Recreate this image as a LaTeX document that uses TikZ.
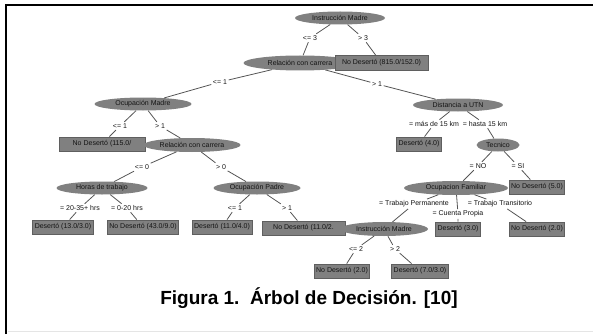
\documentclass[tikz,border=0pt]{standalone}
\usepackage{fontspec}
\setmainfont{Liberation Sans}
\usetikzlibrary{shapes.geometric}
\definecolor{nodefill}{RGB}{128,128,128}
\definecolor{boxline}{RGB}{95,95,95}
\definecolor{edgecol}{RGB}{85,85,85}
\definecolor{textcol}{RGB}{20,20,20}
\tikzset{
    attrib/.style={ellipse, fill=nodefill, inner sep=0pt, minimum height=13pt, font=\fontsize{7}{8}\selectfont, text=textcol},
    leaf/.style={rectangle, fill=nodefill, draw=boxline, line width=0.8pt, inner xsep=2pt, inner ysep=0pt, minimum height=14pt, font=\fontsize{7}{8}\selectfont, text=textcol},
    cond/.style={inner sep=1.5pt, font=\fontsize{7}{8}\selectfont, text=textcol},
    branch/.style={draw=edgecol, line width=0.8pt},
    caption/.style={font=\bfseries\fontsize{19}{22}\selectfont}
}

\begin{document}
\begin{tikzpicture}[x=1pt, y=-1pt]
      \useasboundingbox (0,0) rectangle (593,334);
      % --- Frame ---
      \draw[line width=2pt] (6,334) -- (6,5) -- (593,5);
      \draw[gray!20] (8,331) -- (593,331);

      % --- Level 0 and 1 ---
      \node (imA) [attrib, minimum width=90pt] at (340,18) {Instrucción Madre};
      \node (rcA) [attrib, minimum width=113pt, minimum height=15pt] at (300,63) {Relación con carrera};
      \node (lf1) [leaf, minimum width=93pt, minimum height=15pt] at (381.5,63) {No Desertó (815.0/152.0)};
      \node (c1) [cond] at (310,38) {<= 3};
      \node (c2) [cond] at (363,38) {> 3};

      % --- Level 2 ---
      \node (omA) [attrib, minimum width=97pt] at (143,104) {Ocupación Madre};
      \node (duA) [attrib, minimum width=90pt] at (458,105) {Distancia a UTN};
      \node (c3) [cond] at (220,82) {<= 1};
      \node (c4) [cond] at (377,84) {> 1};

      % --- Level 3 ---
      \node (lf2) [leaf, minimum width=86pt, align=left] at (102,144) {No Desertó (115.0/};
      \node (rcB) [attrib, minimum width=97pt, minimum height=14pt] at (192,145) {Relación con carrera};
      \node (lf3) [leaf] at (419,144) {Desertó (4.0)};
      \node (teA) [attrib, minimum width=43pt] at (498,145) {Tecnico};
      \node (c5) [cond] at (120,126) {<= 1};
      \node (c6) [cond] at (160,126) {> 1};
      \node (c7) [cond] at (434,124) {= más de 15 km};
      \node (c8) [cond] at (485,124) {= hasta 15 km};

      % --- Level 4 ---
      \node (htA) [attrib, minimum width=91pt] at (102,188) {Horas de trabajo};
      \node (opA) [attrib, minimum width=87pt] at (257,188) {Ocupación Padre};
      \node (ofA) [attrib, minimum width=104pt, minimum height=14pt] at (456,188) {Ocupacion Familiar};
      \node (lf4) [leaf] at (537,187) {No Desertó (5.0)};
      \node (c9) [cond] at (142,167) {<= 0};
      \node (c10) [cond] at (221,167) {> 0};
      \node (c11) [cond] at (478,166) {= NO};
      \node (c12) [cond] at (518,166) {= SI};

      % --- Level 5 ---
      \node (lf5) [leaf] at (63,227) {Desertó (13.0/3.0)};
      \node (lf6) [leaf] at (143,227) {No Desertó (43.0/9.0)};
      \node (lf7) [leaf] at (222,227) {Desertó (11.0/4.0)};
      \node (lf8) [leaf, minimum width=83pt] at (303.5,228) {No Desertó (11.0/2.};
      \node (imB) [attrib, minimum width=88pt, minimum height=14pt] at (384,229) {Instrucción Madre};
      \node (lf9) [leaf] at (458,229) {Desertó (3.0)};
      \node (lf10) [leaf] at (537,229) {No Desertó (2.0)};
      \node (c13) [cond] at (80,208) {= 20-35+ hrs};
      \node (c14) [cond] at (127,208) {= 0-20 hrs};
      \node (c15) [cond] at (235,208) {<= 1};
      \node (c16) [cond] at (287,208) {> 1};
      \node (c17) [cond] at (414,204) {= Trabajo Permanente};
      \node (c18) [cond] at (458,214) {= Cuenta Propia};
      \node (c19) [cond] at (500,204) {= Trabajo Transitorio};

      % --- Level 6 ---
      \node (lf11) [leaf] at (342,271) {No Desertó (2.0)};
      \node (lf12) [leaf] at (420,271) {Desertó (7.0/3.0)};
      \node (c20) [cond] at (356,249) {<= 2};
      \node (c21) [cond] at (395,249) {> 2};

      % --- Branches ---
      \draw[branch] (imA) -- (c1) -- (rcA);
      \draw[branch] (imA) -- (c2) -- (lf1);
      \draw[branch] (rcA) -- (c3) -- (omA);
      \draw[branch] (rcA) -- (c4) -- (duA);
      \draw[branch] (omA) -- (c5) -- (lf2);
      \draw[branch] (omA) -- (c6) -- (rcB);
      \draw[branch] (duA) -- (c7) -- (lf3);
      \draw[branch] (duA) -- (c8) -- (teA);
      \draw[branch] (rcB) -- (c9) -- (htA);
      \draw[branch] (rcB) -- (c10) -- (opA);
      \draw[branch] (teA) -- (c11) -- (ofA);
      \draw[branch] (teA) -- (c12) -- (lf4);
      \draw[branch] (htA) -- (c13) -- (lf5);
      \draw[branch] (htA) -- (c14) -- (lf6);
      \draw[branch] (opA) -- (c15) -- (lf7);
      \draw[branch] (opA) -- (c16) -- (lf8);
      \draw[branch] (ofA) -- (c17) -- (imB);
      \draw[branch] (ofA) -- (c18) -- (lf9);
      \draw[branch] (ofA) -- (c19) -- (lf10);
      \draw[branch] (imB) -- (c20) -- (lf11);
      \draw[branch] (imB) -- (c21) -- (lf12);

      % --- Caption ---
      \node (cap) [caption] at (309,298) {Figura 1.~~Árbol de Decisión. [10]};
\end{tikzpicture}
\end{document}
